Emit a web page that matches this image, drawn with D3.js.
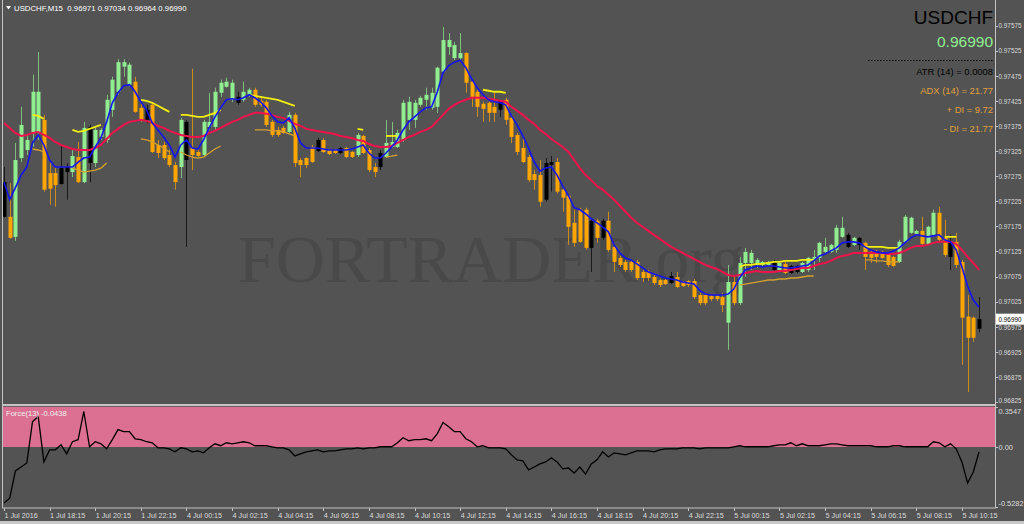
<!DOCTYPE html>
<html><head><meta charset="utf-8">
<script src="https://cdn.jsdelivr.net/npm/d3@7"></script>
<style>html,body{margin:0;padding:0;background:#535353;overflow:hidden}svg{display:block}</style>
</head><body><svg id="c" width="1024" height="524"></svg>
<script>
// ---------------- DATA ----------------
const symbol = "USDCHF";
const timeframe = "M15";
const timeLabels = ["1 Jul 2016","1 Jul 18:15","1 Jul 20:15","1 Jul 22:15","4 Jul 00:15","4 Jul 02:15","4 Jul 04:15","4 Jul 06:15","4 Jul 08:15","4 Jul 10:15","4 Jul 12:15","4 Jul 14:15","4 Jul 16:15","4 Jul 18:15","4 Jul 20:15","4 Jul 22:15","5 Jul 00:15","5 Jul 02:15","5 Jul 04:15","5 Jul 06:15","5 Jul 08:15","5 Jul 10:15"];
const barsPerLabel = 8;
const priceTicks = [0.97575,0.97525,0.97475,0.97425,0.97375,0.97325,0.97275,0.97225,0.97175,0.97125,0.97075,0.97025,0.96975,0.96925,0.96875,0.96825];
const forceTicks = [0.3547,0,-0.5282];
const infoLines = ["ATR (14) = 0.0008","ADX (14) = 21.77","+ DI = 9.72","- DI = 21.77"];
const forceName = "Force(13)";

// candle paint: g = green, o = orange, k = black
const tones = ("kogggggooo"+"kkgogkgggg"+"gggookoooo"+"ogkooggggg"+"gkggoooooo"+"gooookoook"+"oogoookggg"+"gggggggggg"+"gooooookoo"+"oooookkooo"+"oookokoooo"+"oooooookoo"+"ooooooogog"+"gggggkgokk"+"ggggggggkg"+"kooooooggg"+"goggookooo"+"ok").split("");

const open = [0.97194,0.97194,0.97154,0.97311,0.97327,0.97361,0.97363,0.97387,0.97281,0.97281,
0.97259,0.97283,0.97283,0.97313,0.97263,0.97301,0.97301,0.97353,0.97347,0.97407,
0.97443,0.97493,0.97457,0.97463,0.97411,0.97387,0.97417,0.97337,0.97337,0.97317,
0.97297,0.97293,0.97383,0.97331,0.97323,0.97317,0.97373,0.97373,0.97441,0.97453,
0.97427,0.97433,0.97427,0.97437,0.97447,0.97425,0.97423,0.97383,0.97367,0.97371,
0.97363,0.97397,0.97307,0.97311,0.97333,0.97325,0.97347,0.97327,0.97327,0.97321,
0.97331,0.97323,0.97317,0.97355,0.97327,0.97293,0.97293,0.97313,0.97333,0.97333,
0.97347,0.97387,0.97387,0.97417,0.97427,0.97411,0.97413,0.97483,0.97532,0.97510,
0.97510,0.97520,0.97463,0.97443,0.97419,0.97421,0.97413,0.97407,0.97427,0.97391,
0.97357,0.97331,0.97313,0.97279,0.97277,0.97228,0.97297,0.97303,0.97248,0.97236,
0.97182,0.97208,0.97208,0.97186,0.97186,0.97152,0.97186,0.97134,0.97112,0.97104,
0.97104,0.97104,0.97084,0.97084,0.97074,0.97068,0.97068,0.97062,0.97074,0.97064,
0.97066,0.97066,0.97038,0.97038,0.97036,0.97036,0.97034,0.96983,0.97064,0.97022,
0.97102,0.97102,0.97098,0.97098,0.97098,0.97088,0.97088,0.97100,0.97082,0.97084,
0.97084,0.97088,0.97108,0.97112,0.97124,0.97124,0.97128,0.97154,0.97134,0.97138,
0.97138,0.97142,0.97124,0.97122,0.97124,0.97120,0.97114,0.97104,0.97144,0.97162,
0.97160,0.97166,0.97140,0.97158,0.97202,0.97152,0.97114,0.97144,0.97104,0.96995,
0.96993,0.96971];
const high = [0.97293,0.97261,0.97341,0.97413,0.97357,0.97477,0.97522,0.97397,0.97301,0.97293,
0.97337,0.97301,0.97327,0.97343,0.97383,0.97377,0.97371,0.97371,0.97437,0.97473,
0.97508,0.97508,0.97501,0.97473,0.97421,0.97417,0.97421,0.97347,0.97343,0.97327,
0.97303,0.97391,0.97387,0.97489,0.97327,0.97387,0.97441,0.97451,0.97467,0.97471,
0.97467,0.97443,0.97463,0.97451,0.97451,0.97431,0.97427,0.97387,0.97373,0.97375,
0.97403,0.97401,0.97311,0.97313,0.97337,0.97351,0.97351,0.97329,0.97329,0.97333,
0.97333,0.97325,0.97361,0.97357,0.97331,0.97301,0.97327,0.97387,0.97383,0.97367,
0.97427,0.97433,0.97427,0.97435,0.97451,0.97451,0.97493,0.97572,0.97560,0.97542,
0.97560,0.97522,0.97467,0.97447,0.97423,0.97423,0.97441,0.97427,0.97431,0.97393,
0.97361,0.97353,0.97317,0.97287,0.97307,0.97311,0.97315,0.97311,0.97252,0.97238,
0.97208,0.97212,0.97212,0.97188,0.97190,0.97190,0.97204,0.97138,0.97116,0.97108,
0.97108,0.97108,0.97088,0.97088,0.97078,0.97070,0.97070,0.97084,0.97084,0.97066,
0.97068,0.97070,0.97042,0.97042,0.97038,0.97038,0.97042,0.97098,0.97074,0.97114,
0.97132,0.97128,0.97112,0.97106,0.97106,0.97108,0.97104,0.97104,0.97098,0.97098,
0.97104,0.97114,0.97128,0.97144,0.97152,0.97140,0.97178,0.97194,0.97162,0.97154,
0.97154,0.97144,0.97128,0.97128,0.97126,0.97122,0.97116,0.97148,0.97198,0.97194,
0.97168,0.97194,0.97176,0.97208,0.97214,0.97188,0.97158,0.97162,0.97108,0.97038,
0.96995,0.97034];
const low = [0.97192,0.97150,0.97146,0.97303,0.97317,0.97333,0.97347,0.97244,0.97218,0.97214,
0.97259,0.97228,0.97273,0.97261,0.97261,0.97263,0.97293,0.97347,0.97341,0.97393,
0.97437,0.97473,0.97453,0.97401,0.97383,0.97381,0.97321,0.97311,0.97307,0.97293,
0.97248,0.97271,0.97134,0.97287,0.97313,0.97313,0.97367,0.97367,0.97433,0.97451,
0.97423,0.97417,0.97423,0.97433,0.97413,0.97413,0.97373,0.97353,0.97353,0.97359,
0.97361,0.97293,0.97273,0.97291,0.97301,0.97323,0.97321,0.97317,0.97319,0.97319,
0.97311,0.97311,0.97313,0.97319,0.97283,0.97273,0.97287,0.97311,0.97331,0.97331,
0.97343,0.97367,0.97371,0.97413,0.97407,0.97407,0.97401,0.97481,0.97516,0.97506,
0.97506,0.97441,0.97413,0.97393,0.97383,0.97383,0.97383,0.97393,0.97377,0.97341,
0.97317,0.97301,0.97263,0.97248,0.97214,0.97224,0.97244,0.97240,0.97204,0.97138,
0.97134,0.97142,0.97128,0.97084,0.97142,0.97148,0.97124,0.97084,0.97094,0.97084,
0.97084,0.97068,0.97064,0.97066,0.97058,0.97054,0.97058,0.97060,0.97052,0.97054,
0.97054,0.97030,0.97018,0.97018,0.97026,0.97026,0.97004,0.96929,0.97018,0.97018,
0.97074,0.97088,0.97092,0.97096,0.97096,0.97084,0.97086,0.97080,0.97080,0.97082,
0.97082,0.97084,0.97088,0.97104,0.97122,0.97122,0.97122,0.97152,0.97132,0.97136,
0.97128,0.97088,0.97102,0.97102,0.97110,0.97094,0.97094,0.97102,0.97142,0.97160,
0.97158,0.97138,0.97138,0.97154,0.97142,0.97114,0.97088,0.97092,0.96899,0.96845,
0.96945,0.96964];
const close = [0.97263,0.97152,0.97307,0.97377,0.97347,0.97443,0.97443,0.97248,0.97250,0.97257,
0.97291,0.97293,0.97315,0.97263,0.97371,0.97373,0.97367,0.97367,0.97427,0.97467,
0.97502,0.97502,0.97497,0.97403,0.97387,0.97407,0.97323,0.97321,0.97311,0.97297,
0.97263,0.97387,0.97307,0.97317,0.97315,0.97383,0.97383,0.97443,0.97461,0.97463,
0.97461,0.97421,0.97443,0.97447,0.97417,0.97417,0.97377,0.97357,0.97357,0.97361,
0.97397,0.97301,0.97297,0.97297,0.97303,0.97347,0.97323,0.97319,0.97321,0.97331,
0.97313,0.97313,0.97357,0.97321,0.97287,0.97283,0.97321,0.97341,0.97343,0.97361,
0.97421,0.97423,0.97421,0.97431,0.97437,0.97441,0.97491,0.97546,0.97546,0.97536,
0.97520,0.97461,0.97433,0.97413,0.97409,0.97401,0.97401,0.97425,0.97387,0.97353,
0.97323,0.97303,0.97267,0.97267,0.97224,0.97301,0.97303,0.97244,0.97232,0.97174,
0.97142,0.97144,0.97132,0.97132,0.97152,0.97186,0.97128,0.97104,0.97098,0.97088,
0.97088,0.97072,0.97072,0.97072,0.97062,0.97058,0.97060,0.97076,0.97054,0.97056,
0.97058,0.97034,0.97022,0.97022,0.97030,0.97030,0.97018,0.97064,0.97022,0.97102,
0.97124,0.97122,0.97108,0.97104,0.97104,0.97104,0.97102,0.97082,0.97096,0.97096,
0.97102,0.97112,0.97114,0.97142,0.97134,0.97138,0.97172,0.97172,0.97158,0.97152,
0.97152,0.97114,0.97112,0.97114,0.97112,0.97098,0.97096,0.97144,0.97194,0.97192,
0.97166,0.97140,0.97174,0.97202,0.97148,0.97118,0.97144,0.97098,0.96993,0.96953,
0.96953,0.96990];

const fastMA = [0.97263,0.97228,0.97252,0.97277,0.97293,0.97341,0.97357,0.97337,0.97307,0.97293,
0.97293,0.97293,0.97293,0.97303,0.97311,0.97313,0.97333,0.97351,0.97383,0.97421,
0.97441,0.97455,0.97457,0.97443,0.97423,0.97407,0.97381,0.97367,0.97353,0.97337,
0.97313,0.97337,0.97347,0.97331,0.97329,0.97347,0.97371,0.97393,0.97411,0.97427,
0.97429,0.97427,0.97431,0.97437,0.97431,0.97423,0.97411,0.97395,0.97383,0.97381,
0.97391,0.97371,0.97341,0.97331,0.97331,0.97331,0.97329,0.97327,0.97327,0.97327,
0.97327,0.97329,0.97333,0.97337,0.97321,0.97311,0.97311,0.97321,0.97333,0.97347,
0.97367,0.97383,0.97393,0.97403,0.97411,0.97413,0.97443,0.97481,0.97495,0.97502,
0.97506,0.97491,0.97469,0.97451,0.97437,0.97427,0.97423,0.97421,0.97417,0.97395,
0.97377,0.97355,0.97331,0.97303,0.97285,0.97291,0.97293,0.97277,0.97255,0.97236,
0.97212,0.97208,0.97200,0.97190,0.97182,0.97174,0.97164,0.97138,0.97122,0.97112,
0.97108,0.97100,0.97092,0.97084,0.97080,0.97076,0.97072,0.97070,0.97068,0.97064,
0.97062,0.97060,0.97048,0.97040,0.97038,0.97038,0.97038,0.97040,0.97050,0.97072,
0.97088,0.97092,0.97096,0.97094,0.97096,0.97096,0.97094,0.97092,0.97092,0.97094,
0.97096,0.97098,0.97106,0.97116,0.97120,0.97126,0.97132,0.97142,0.97144,0.97144,
0.97142,0.97134,0.97128,0.97124,0.97122,0.97122,0.97126,0.97132,0.97142,0.97152,
0.97158,0.97156,0.97154,0.97156,0.97158,0.97148,0.97144,0.97128,0.97094,0.97056,
0.97028,0.97014];
const slowMA = [0.97381,0.97371,0.97361,0.97355,0.97357,0.97361,0.97363,0.97357,0.97351,0.97343,
0.97337,0.97333,0.97329,0.97327,0.97327,0.97327,0.97331,0.97337,0.97349,0.97361,
0.97369,0.97377,0.97383,0.97385,0.97387,0.97385,0.97381,0.97375,0.97371,0.97365,
0.97361,0.97357,0.97355,0.97353,0.97353,0.97355,0.97361,0.97365,0.97371,0.97377,
0.97383,0.97387,0.97393,0.97397,0.97401,0.97401,0.97399,0.97397,0.97393,0.97391,
0.97385,0.97379,0.97375,0.97369,0.97367,0.97365,0.97363,0.97361,0.97359,0.97355,
0.97353,0.97351,0.97347,0.97345,0.97339,0.97335,0.97333,0.97333,0.97335,0.97341,
0.97347,0.97353,0.97357,0.97363,0.97367,0.97373,0.97385,0.97397,0.97409,0.97417,
0.97423,0.97427,0.97431,0.97431,0.97431,0.97429,0.97427,0.97425,0.97423,0.97413,
0.97405,0.97397,0.97387,0.97379,0.97367,0.97359,0.97349,0.97341,0.97333,0.97323,
0.97307,0.97291,0.97277,0.97267,0.97255,0.97248,0.97238,0.97228,0.97216,0.97204,
0.97192,0.97182,0.97174,0.97166,0.97158,0.97150,0.97142,0.97134,0.97128,0.97122,
0.97116,0.97110,0.97104,0.97098,0.97094,0.97090,0.97084,0.97078,0.97076,0.97078,
0.97082,0.97084,0.97086,0.97084,0.97084,0.97084,0.97086,0.97086,0.97088,0.97090,
0.97092,0.97092,0.97096,0.97100,0.97102,0.97106,0.97112,0.97116,0.97118,0.97122,
0.97122,0.97122,0.97122,0.97122,0.97122,0.97120,0.97120,0.97122,0.97126,0.97132,
0.97136,0.97136,0.97138,0.97142,0.97144,0.97144,0.97144,0.97140,0.97128,0.97114,
0.97102,0.97088];

// channel segments: [first bar index, values]
const upperSegs = [
 [5,[0.97397,0.97395,0.97389]],
 [12,[0.97367,0.97363,0.97365,0.97369,0.97373,0.97377]],
 [24,[0.97427,0.97425,0.97421,0.97415,0.97409,0.97403]],
 [31,[0.97397,0.97397,0.97395,0.97393,0.97393,0.97397,0.97401,0.97407]],
 [43,[0.97437,0.97435,0.97433,0.97431,0.97429,0.97427,0.97423,0.97419,0.97415]],
 [62,[0.97369,0.97367]],
 [67,[0.97355,0.97355,0.97355]],
 [84,[0.97447,0.97445,0.97443,0.97443,0.97441]],
 [129,[0.97094,0.97098,0.97098,0.97100,0.97100,0.97102,0.97104,0.97104,0.97106,0.97106,0.97106,0.97108,0.97108,0.97108]],
 [151,[0.97134,0.97134,0.97134,0.97134,0.97132,0.97132,0.97132]],
 [165,[0.97154,0.97154,0.97154]]
];
const lowerSegs = [
 [5,[0.97329,0.97327,0.97323]],
 [12,[0.97291,0.97287,0.97283,0.97285,0.97287,0.97291,0.97301]],
 [24,[0.97349,0.97347,0.97343,0.97337,0.97331,0.97323]],
 [31,[0.97323,0.97317,0.97313,0.97311,0.97313,0.97321,0.97329,0.97335]],
 [44,[0.97367,0.97367,0.97367,0.97365,0.97365,0.97363,0.97359,0.97355]],
 [67,[0.97313,0.97315,0.97317]],
 [129,[0.97058,0.97060,0.97062,0.97064,0.97066,0.97068,0.97068,0.97070,0.97070,0.97072,0.97072,0.97074,0.97076,0.97076]],
 [151,[0.97108,0.97108,0.97106,0.97106,0.97104,0.97104,0.97104]]
];

const force = [-0.49,-0.449,-0.210,-0.175,-0.140,0.222,0.267,-0.131,-0.025,-0.025,
0.019,-0.060,0.046,0.064,0.311,0.002,0.046,0.028,-0.016,0.064,
0.152,0.134,0.134,0.072,0.064,0.046,0.037,-0.007,-0.007,-0.016,
-0.042,-0.007,-0.016,-0.042,-0.034,-0.051,-0.007,0.028,0.011,0.037,
0.028,0.037,0.046,0.037,0.011,0.011,0.011,0.002,-0.007,-0.007,
-0.025,-0.078,-0.060,-0.042,-0.034,-0.025,-0.042,-0.034,-0.034,-0.025,
-0.016,-0.016,-0.007,-0.016,-0.007,-0.007,0.002,0.002,0.002,0.037,
0.081,0.055,0.064,0.064,0.072,0.055,0.117,0.214,0.178,0.134,
0.134,0.072,0.046,0.002,0.011,-0.007,-0.007,-0.007,-0.016,-0.069,
-0.113,-0.122,-0.201,-0.175,-0.148,-0.131,-0.095,-0.131,-0.192,-0.184,
-0.228,-0.175,-0.237,-0.148,-0.113,-0.042,-0.087,-0.051,-0.060,-0.069,
-0.051,-0.034,-0.034,-0.034,-0.042,-0.025,-0.016,-0.016,-0.016,-0.007,
-0.007,-0.007,-0.016,-0.007,-0.007,-0.007,-0.007,-0.007,0.002,0.011,
0.002,0.002,0.002,0.002,0.002,0.011,0.019,0.019,0.037,0.011,
0.028,0.011,0.011,0.011,0.019,0.028,0.028,0.019,0.011,0.011,
0.011,0.011,0.011,0.002,0.002,0.002,0.011,0.011,0.002,0.002,
0.002,0.002,0.002,0.046,0.037,0.002,0.028,-0.016,-0.131,-0.316,
-0.219,-0.0438];

// ---------------- DRAW ----------------
const svg = d3.select("#c");
const n = close.length;
const L = 3, R = 995, mainBottom = 404, subTop = 406.5, subBottom = 507.5;
const font = "'Liberation Sans', Arial, sans-serif";
const axisCol = "#dcdcdc";
const bg = "#535353";
const axisFs = 7.4;

const x = d3.scaleLinear().domain([0, n - 1]).range([4, 979]);
const y = d3.scaleLinear().domain([0.96825, 0.97575]).range([402, 25.5]);
const fy = d3.scaleLinear().domain([-0.5282, 0.3547]).range([507.3, 406.5]);

svg.append("rect").attr("width", 1024).attr("height", 524).attr("fill", bg);

const defs = svg.append("defs");
defs.append("clipPath").attr("id", "mainClip").append("rect")
  .attr("x", L).attr("y", 0).attr("width", R - L).attr("height", mainBottom);
defs.append("clipPath").attr("id", "subClip").append("rect")
  .attr("x", L).attr("y", subTop).attr("width", R - L).attr("height", subBottom - subTop);

const main = svg.append("g").attr("clip-path", "url(#mainClip)");

// watermark
main.append("text").attr("x", 238).attr("y", 282)
  .attr("font-family", "'Liberation Serif', 'Times New Roman', serif")
  .attr("font-size", 68).attr("fill", "#494949").text("FORTRADER.org");

// candles
const bodyCol = {g: "#90ee90", o: "#ffa500", k: "#000000"};
const wickCol = {g: "#7ebf7e", o: "#cb8c19", k: "#1a1a1a"};
const idx = d3.range(n);
const cg = main.append("g");
cg.selectAll("line.w").data(idx).join("line")
  .attr("x1", i => Math.round(x(i)) + 0.5).attr("x2", i => Math.round(x(i)) + 0.5)
  .attr("y1", i => y(high[i])).attr("y2", i => y(low[i]))
  .attr("stroke", i => wickCol[tones[i]]).attr("stroke-width", 1);
cg.selectAll("rect.b").data(idx).join("rect")
  .attr("x", i => Math.round(x(i)) - 1.5).attr("width", 4)
  .attr("y", i => y(Math.max(open[i], close[i])))
  .attr("height", i => Math.max(1.5, Math.abs(y(open[i]) - y(close[i]))))
  .attr("fill", i => bodyCol[tones[i]]);

// channel segments
const segLine = d3.line().x(d => x(d[0])).y(d => y(d[1]));
function segPts(s) { return s[1].map((v, k) => [s[0] + k, v]); }
main.selectAll("path.lo").data(lowerSegs).join("path")
  .attr("d", s => segLine(segPts(s))).attr("fill", "none")
  .attr("stroke", "#d4a030").attr("stroke-width", 1.3);
main.selectAll("path.up").data(upperSegs).join("path")
  .attr("d", s => segLine(segPts(s))).attr("fill", "none")
  .attr("stroke", "#f2ee10").attr("stroke-width", 1.8);

// moving averages
const maLine = d3.line().x((d, i) => x(i)).y(d => y(d));
main.append("path").attr("d", maLine(slowMA)).attr("fill", "none")
  .attr("stroke", "#f0124c").attr("stroke-width", 2);
main.append("path").attr("d", maLine(fastMA)).attr("fill", "none")
  .attr("stroke", "#1414f0").attr("stroke-width", 1.6);

// ---------------- SUB PANEL ----------------
const sub = svg.append("g").attr("clip-path", "url(#subClip)");
sub.append("rect").attr("x", L).attr("width", R - L)
  .attr("y", fy(forceTicks[0])).attr("height", fy(0) - fy(forceTicks[0]))
  .attr("fill", "#db7093");
const fLine = d3.line().x((d, i) => x(i)).y(d => fy(d));
sub.append("path").attr("d", fLine(force)).attr("fill", "none")
  .attr("stroke", "#000").attr("stroke-width", 1.3);

// ---------------- FRAME ----------------
const frame = svg.append("g").attr("stroke", "#c4c4c4").attr("stroke-width", 1);
frame.append("line").attr("x1", 2.5).attr("x2", 2.5).attr("y1", 0).attr("y2", 508);
frame.append("line").attr("x1", R + 0.5).attr("x2", R + 0.5).attr("y1", 0).attr("y2", 508);
frame.append("line").attr("x1", 2).attr("x2", R + 1).attr("y1", 405).attr("y2", 405).attr("stroke-width", 2);
frame.append("line").attr("x1", 2).attr("x2", R + 1).attr("y1", 508).attr("y2", 508);
svg.append("rect").attr("x", 0).attr("y", 521).attr("width", 1024).attr("height", 3).attr("fill", "#c8c8c8");

// price axis
const pa = svg.append("g");
pa.selectAll("line").data(priceTicks).join("line")
  .attr("x1", R + 1).attr("x2", R + 3).attr("y1", d => Math.round(y(d)) + 0.5).attr("y2", d => Math.round(y(d)) + 0.5)
  .attr("stroke", "#c4c4c4");
pa.selectAll("text").data(priceTicks).join("text")
  .attr("x", R + 3.5).attr("y", d => Math.min(403, y(d) + 2.8))
  .attr("font-family", font).attr("font-size", axisFs).attr("fill", axisCol)
  .attr("textLength", 23).attr("lengthAdjust", "spacingAndGlyphs")
  .text(d => d.toFixed(5));

// current price box
const last = n - 1;
svg.append("rect").attr("x", R + 1).attr("y", y(close[last]) - 5.5).attr("width", 28).attr("height", 11).attr("fill", "#fff");
svg.append("text").attr("x", R + 3.5).attr("y", y(close[last]) + 2.8)
  .attr("font-family", font).attr("font-size", axisFs).attr("fill", "#000")
  .attr("textLength", 23).attr("lengthAdjust", "spacingAndGlyphs").text(close[last].toFixed(5));

// force axis
const fa = svg.append("g");
fa.selectAll("line").data(forceTicks).join("line")
  .attr("x1", R + 1).attr("x2", R + 3).attr("y1", d => Math.round(fy(d)) + 0.5).attr("y2", d => Math.round(fy(d)) + 0.5)
  .attr("stroke", "#c4c4c4");
fa.selectAll("text").data(forceTicks).join("text")
  .attr("x", R + 3.5).attr("y", d => Math.max(413.5, Math.min(506, fy(d) + 2.8)))
  .attr("font-family", font).attr("font-size", axisFs).attr("fill", axisCol)
  .text(d => d === 0 ? "0.00" : d.toFixed(4));

// time axis
const ta = svg.append("g");
ta.selectAll("line").data(timeLabels).join("line")
  .attr("x1", (d, k) => Math.round(x(k * barsPerLabel)) + 0.5).attr("x2", (d, k) => Math.round(x(k * barsPerLabel)) + 0.5)
  .attr("y1", 508).attr("y2", 511).attr("stroke", "#c4c4c4");
ta.selectAll("text").data(timeLabels).join("text")
  .attr("x", (d, k) => x(k * barsPerLabel) + 0.5).attr("y", 517.5)
  .attr("font-family", font).attr("font-size", 7.2).attr("fill", axisCol).text(d => d);

// top-left caption
svg.append("path").attr("d", "M6,6 L11,6 L8.5,9.5 Z").attr("fill", "#fff");
svg.append("text").attr("x", 14).attr("y", 11).attr("font-family", font).attr("font-size", 7.8).attr("fill", "#fff")
  .attr("xml:space", "preserve")
  .text(`${symbol},${timeframe}  ${open[last].toFixed(5)} ${high[last].toFixed(5)} ${low[last].toFixed(5)} ${close[last].toFixed(5)}`);

// force caption
svg.append("text").attr("x", 6).attr("y", 416).attr("font-family", font).attr("font-size", 7.6).attr("fill", "#f0f0f0")
  .text(`${forceName} ${force[last].toFixed(4)}`);

// info block (top-right)
const info = svg.append("g").attr("font-family", font).attr("text-anchor", "end");
info.append("text").attr("x", 993).attr("y", 24).attr("font-size", 19).attr("fill", "#000").text(symbol);
info.append("text").attr("x", 993).attr("y", 47).attr("font-size", 15.5).attr("fill", "#90ee90").text(close[last].toFixed(5));
svg.append("line").attr("x1", 868).attr("x2", 993).attr("y1", 60.5).attr("y2", 60.5)
  .attr("stroke", "#000").attr("stroke-dasharray", "1.5,1.5");
const infoCols = ["#000000", "#e0a03a", "#e0a03a", "#e0a03a"];
const infoY = [74.5, 93.5, 113, 132];
info.selectAll("text.i").data(infoLines).join("text")
  .attr("x", 993).attr("y", (d, k) => infoY[k]).attr("font-size", 9.4)
  .attr("fill", (d, k) => infoCols[k]).text(d => d);
</script>
</body></html>
